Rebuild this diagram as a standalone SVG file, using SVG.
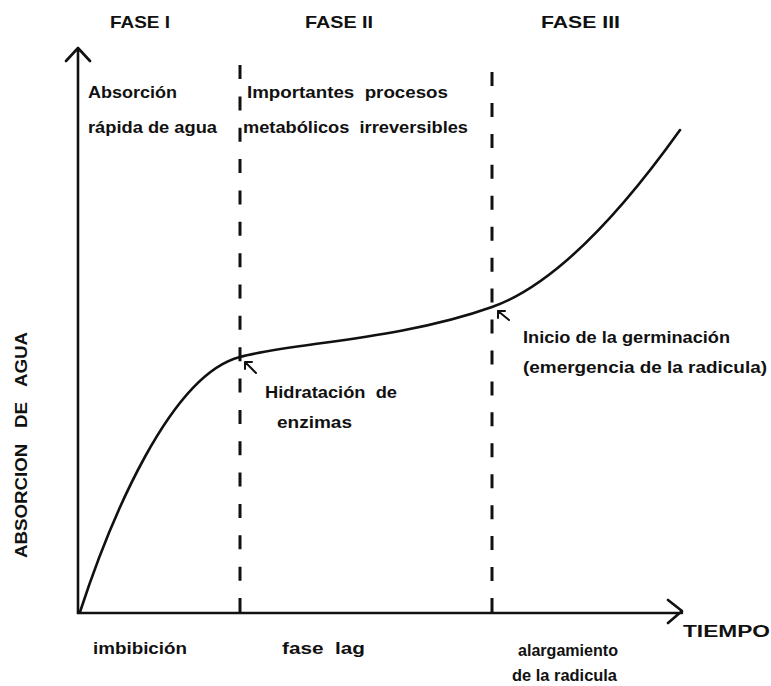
<svg xmlns="http://www.w3.org/2000/svg" width="771" height="686" viewBox="0 0 771 686">
<style>
text{font-family:"Liberation Sans",Arial,sans-serif;font-weight:bold;fill:#111;font-size:16px}
.h{font-size:17px}
.ax{stroke:#111;stroke-width:2.6;fill:none;stroke-linecap:round;stroke-linejoin:round}
.dash{stroke:#111;stroke-width:3;fill:none}
.curve{stroke:#111;stroke-width:2.6;fill:none;stroke-linecap:round}
.pt{stroke:#111;stroke-width:2;fill:none;stroke-linecap:round;stroke-linejoin:round}
</style>
<rect width="771" height="686" fill="#fff"/>
<g id="axes">
<path class="ax" d="M78,613 V48 M66,61 L78,48 L90,61"/>
<path class="ax" d="M78,613 H682 M668,600 L682,611 L668,623"/>
</g>
<g id="connectors">
<line class="dash" x1="240" y1="612" x2="240" y2="65" stroke-dasharray="14 17.35"/>
<line class="dash" x1="492" y1="612" x2="492" y2="72" stroke-dasharray="14 16.94"/>
<path class="curve" d="M80,612 C110,520 170,375 240,357 C290,343 400,340 492,307 C560,283 630,200 680,130"/>
<path class="pt" d="M245,362 L256,373 M245,362 H252 M245,362 V369"/>
<path class="pt" d="M498,311 L509,320 M498,311 H505 M498,311 V318"/>
</g>
<g id="phase1">
<text class="h" x="110" y="28" textLength="60" lengthAdjust="spacingAndGlyphs">FASE I</text>
<text x="88" y="98" textLength="89" lengthAdjust="spacingAndGlyphs">Absorción</text>
<text x="88" y="133" textLength="129" lengthAdjust="spacingAndGlyphs">rápida de agua</text>
<text x="93" y="654" textLength="94" lengthAdjust="spacingAndGlyphs">imbibición</text>
</g>
<g id="phase2">
<text class="h" x="305" y="28" textLength="68" lengthAdjust="spacingAndGlyphs">FASE II</text>
<text x="247" y="98" textLength="201" lengthAdjust="spacingAndGlyphs" xml:space="preserve">Importantes  procesos</text>
<text x="243" y="133" textLength="225" lengthAdjust="spacingAndGlyphs" xml:space="preserve">metabólicos  irreversibles</text>
<text x="265" y="398" textLength="132" lengthAdjust="spacingAndGlyphs" xml:space="preserve">Hidratación  de</text>
<text x="277" y="428" textLength="75" lengthAdjust="spacingAndGlyphs">enzimas</text>
<text x="282" y="654" textLength="83" lengthAdjust="spacingAndGlyphs" xml:space="preserve">fase  lag</text>
</g>
<g id="phase3">
<text class="h" x="541" y="28" textLength="79" lengthAdjust="spacingAndGlyphs">FASE III</text>
<text x="523" y="343" textLength="207" lengthAdjust="spacingAndGlyphs">Inicio de la germinación</text>
<text x="523" y="373" textLength="244" lengthAdjust="spacingAndGlyphs">(emergencia de la radicula)</text>
<text x="518" y="656" textLength="100" lengthAdjust="spacingAndGlyphs">alargamiento</text>
<text x="512" y="681" textLength="105" lengthAdjust="spacingAndGlyphs">de la radicula</text>
</g>
<g id="labels">
<text x="683" y="637" textLength="87" lengthAdjust="spacingAndGlyphs">TIEMPO</text>
<text x="0" y="0" font-size="15" transform="translate(27,558) rotate(-90)" textLength="226" lengthAdjust="spacingAndGlyphs" xml:space="preserve">ABSORCION   DE   AGUA</text>
</g>
</svg>
